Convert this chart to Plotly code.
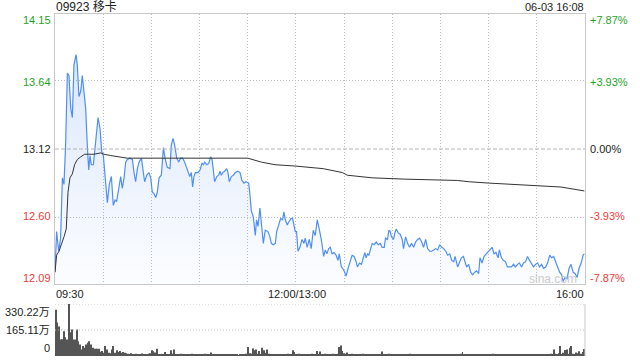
import plotly.graph_objects as go

# ---------------- data ----------------
TITLE = "09923 移卡"
STAMP = "06-03 16:08"
PREV_CLOSE = 13.12
Y_MIN, Y_MAX = 12.09, 14.15
PRICE_TICKS = [14.15, 13.64, 13.12, 12.60, 12.09]
PCT_TICKS = ["+7.87%", "+3.93%", "0.00%", "-3.93%", "-7.87%"]
TIME_LABELS = ["09:30", "12:00/13:00", "16:00"]
VOL_TICKS = ["330.22万", "165.11万", "0"]
VOL_MAX = 330.22

# minutes since 09:30 (lunch break removed) and price
price_t = [0, 1.0, 2.3, 3.5, 4.6, 5.6, 6.6, 7.7, 8.7, 9.8, 10.8, 11.8, 13.1, 13.9, 14.9, 16.0, 17.0, 18.1, 19.1, 20.1,
           21.0, 21.8, 22.6, 23.9, 25.1, 26.8, 28.0, 29.1, 30.1, 31.5, 32.6, 33.8, 35.1, 36.3, 37.4, 38.4, 39.9, 40.9,
           41.9, 43.0, 44.0, 45.0, 46.7, 48.2, 49.2, 50.2, 51.3, 52.3, 53.8, 55.0, 55.8, 57.1, 58.5, 59.6, 60.6, 61.6,
           62.7, 63.7, 64.8, 66.2, 67.5, 68.5, 69.9, 71.6, 72.4, 73.5, 74.5, 75.8, 77.0, 78.2, 79.5, 80.7, 82.0,
           83.9, 84.9, 85.7, 86.5, 87.4, 89.0, 90.3, 91.5, 92.4, 93.2, 94.5, 95.7, 96.9, 97.8, 98.6, 99.4, 100.7, 101.9,
           102.7, 103.6, 104.4, 105.6, 106.9, 107.7, 108.5, 109.8, 111.0, 112.3, 113.9, 115.2, 116.4, 117.7, 118.9,
           120.6, 121.4, 122.2, 123.5, 124.7, 125.5, 126.4, 127.6, 128.5, 129.7, 130.9, 132.6, 133.8, 134.7, 135.9,
           137.2, 138.0, 139.3, 140.5, 141.7, 142.5, 143.4, 144.6, 145.9, 147.1, 147.9, 148.7, 149.6, 150.4, 151.3,
           152.5, 153.8, 155.0, 155.8, 157.0, 158.3, 159.5, 160.8, 162.0, 163.3, 164.5, 165.8,
           167.3, 168.3, 169.3, 170.4, 171.4, 172.5, 173.7, 175.0, 176.2, 177.0, 178.3, 179.1, 180.4, 181.2, 182.5,
           183.7, 185.0, 186.2, 187.5, 188.3, 189.6, 190.8, 192.1, 192.9, 193.7, 194.6, 195.4, 196.7, 197.5, 198.7,
           200.0, 201.2, 202.5, 203.7, 205.0, 205.8, 207.0, 207.9, 208.7, 209.5, 210.8, 211.6, 212.5, 213.7, 214.9,
           216.2, 217.0, 218.3, 219.5, 220.8, 222.0, 223.3, 224.5, 225.8, 227.0, 228.3, 229.5, 230.8, 232.0, 233.3,
           234.5, 235.8, 237.0, 238.3, 239.5, 240.8, 242.0, 243.3, 244.5, 245.8, 247.0, 248.3, 249.1,
           250.7, 251.8, 253.0, 254.3, 255.5, 256.3, 257.6, 258.8, 260.1, 261.3, 262.5, 263.8, 264.6, 265.9, 267.1,
           268.4, 269.6, 270.9, 272.1, 273.4, 274.6, 275.9, 276.7, 278.0, 279.2, 280.5, 281.7, 283.0, 284.2, 285.5,
           286.7, 288.0, 289.2, 290.5, 291.7, 293.0, 294.2, 295.5, 296.7, 298.0, 299.2, 300.5, 301.7, 303.0, 304.2,
           305.5, 306.7, 308.0, 309.2, 310.5, 311.7, 313.0, 314.2, 315.5, 316.3, 317.6, 318.8, 320.1, 321.3, 322.6,
           323.8, 325.1, 326.3, 327.6, 328.8, 329.6]
price_v = [12.18, 12.49, 12.34, 12.44, 12.90, 12.85, 13.15, 13.70, 13.68, 13.43, 13.36, 13.76, 13.84, 13.76, 13.52,
           13.56, 13.68, 13.53, 13.43, 13.15, 12.96, 13.07, 13.00, 13.00, 13.13, 13.36, 13.28, 13.10, 13.07, 12.90,
           12.71, 12.85, 12.91, 12.69, 12.73, 12.72, 12.85, 12.91, 12.82, 12.90, 13.02, 13.04, 13.05, 13.04, 12.94,
           12.87, 12.97, 13.02, 13.05, 12.96, 12.87, 12.92, 12.94, 12.90, 12.79, 12.78, 12.75, 12.79, 12.90, 12.92,
           13.13, 13.05, 12.98, 12.97, 13.15, 13.20, 13.15, 13.05, 13.02, 13.05, 13.05, 13.02, 12.98,
           12.91, 12.94, 12.83, 12.91, 12.94, 12.94, 12.96, 13.01, 13.00, 13.02, 13.00, 13.01, 13.06, 13.04, 12.94,
           12.87, 12.91, 12.92, 12.95, 12.92, 12.94, 12.95, 12.97, 12.94, 12.87, 12.91, 12.92, 12.94, 12.95, 12.94,
           12.88, 12.86, 12.87, 12.86, 12.77, 12.65, 12.60, 12.46, 12.58, 12.53, 12.67, 12.55, 12.40, 12.50, 12.49,
           12.45, 12.40, 12.39, 12.40, 12.49, 12.55, 12.59, 12.58, 12.64, 12.58, 12.54, 12.57, 12.59, 12.59, 12.55,
           12.49, 12.49, 12.34, 12.37, 12.43, 12.40, 12.44, 12.37, 12.43, 12.36, 12.50, 12.46, 12.58, 12.51, 12.43,
           12.30, 12.35, 12.32, 12.36, 12.37, 12.32, 12.33, 12.31, 12.27, 12.32, 12.22, 12.21, 12.18, 12.15, 12.21,
           12.26, 12.31, 12.30, 12.26, 12.22, 12.25, 12.24, 12.29, 12.33, 12.29, 12.32, 12.31, 12.37, 12.40, 12.39,
           12.41, 12.39, 12.40, 12.37, 12.37, 12.44, 12.43, 12.50, 12.49, 12.45, 12.43, 12.48, 12.51, 12.48, 12.47,
           12.43, 12.36, 12.45, 12.40, 12.37, 12.40, 12.37, 12.41, 12.43, 12.44, 12.41, 12.37, 12.43, 12.36, 12.34,
           12.34, 12.35, 12.36, 12.35, 12.39, 12.37, 12.36, 12.34, 12.31, 12.32, 12.27, 12.26, 12.30,
           12.22, 12.25, 12.29, 12.30, 12.25, 12.22, 12.24, 12.18, 12.16, 12.18, 12.19, 12.17, 12.29, 12.25, 12.30,
           12.32, 12.33, 12.35, 12.37, 12.32, 12.33, 12.29, 12.35, 12.29, 12.27, 12.26, 12.22, 12.22, 12.22, 12.24,
           12.22, 12.24, 12.25, 12.22, 12.25, 12.26, 12.30, 12.27, 12.25, 12.22, 12.24, 12.25, 12.22, 12.24, 12.21,
           12.22, 12.25, 12.31, 12.29, 12.30, 12.26, 12.22, 12.18, 12.16, 12.11, 12.14, 12.13, 12.21, 12.24, 12.18,
           12.17, 12.14, 12.21, 12.25, 12.31, 12.32]

avg_t = [0, 1, 2.5, 4, 5.6, 7, 8.1, 9.3, 10.8, 12.2, 13.9, 16, 18.5, 21, 24.3, 28.4, 30.5, 34.7, 38.8, 45, 53,
         61.6, 68, 76, 84, 120, 128.5, 137, 149.6, 158, 167, 179, 182, 197.5, 218, 250.5, 258, 270, 299, 315, 329.6]
avg_v = [12.18, 12.31, 12.34, 12.39, 12.45, 12.51, 12.79, 12.90, 12.93, 13.00, 13.04, 13.06, 13.08, 13.08, 13.08,
         13.09, 13.08, 13.07, 13.06, 13.05, 13.05, 13.05, 13.05, 13.05, 13.05, 13.05, 13.02, 13.00, 12.99, 12.98,
         12.97, 12.94, 12.92, 12.90, 12.89, 12.88, 12.87, 12.86, 12.84, 12.83, 12.80]

# volume per minute (万), minutes 0..330
volume = [293, 213, 188, 105, 107, 157, 119, 105, 330, 151, 168, 105, 105, 168, 94,
          73, 42, 63, 52, 73, 84, 94, 73, 52, 46, 46, 46, 46, 27, 31,
          21, 63, 42, 21, 17, 42, 63, 21, 36, 25, 31, 21, 25, 21, 18,
          14, 10, 18, 12, 8, 15, 11, 9, 13, 16, 10, 12, 8, 14, 17,
          36, 30, 22, 46, 12, 9, 14, 11, 25, 10, 13, 8, 36, 15, 42,
          12, 9, 11, 14, 8, 10, 13, 7, 12, 9, 15, 10, 8, 11, 13,
          9, 12, 8, 14, 10, 7, 11, 22, 9, 13, 8, 10, 12, 7, 9,
          11, 8, 13, 10, 7, 9, 12, 8, 10, 6, 11, 9, 8, 12, 14,
          57, 18, 14, 48, 36, 42, 15, 31, 12, 52, 36, 20, 42, 14, 10,
          12, 9, 11, 8, 13, 10, 9, 12, 8, 11, 15, 10, 13, 36, 25,
          12, 10, 14, 9, 11, 8, 13, 10, 9, 12, 15, 11, 10, 31, 13,
          29, 12, 10, 14, 9, 11, 13, 10, 15, 12, 9, 14, 57, 67, 31,
          18, 14, 22, 12, 10, 15, 9, 13, 11, 8, 12, 10, 14, 9, 11,
          8, 12, 10, 7, 11, 9, 13, 10, 8, 29, 12, 9, 11, 14, 10,
          8, 12, 9, 11, 7, 10, 13, 9, 8, 12, 10, 14, 9, 11, 8,
          10, 12, 9, 7, 11, 13, 8, 10, 9, 12, 8, 11, 10, 7, 9,
          12, 10, 8, 11, 9, 13, 10, 8, 12, 9, 11, 7, 10, 14, 25,
          11, 9, 12, 8, 10, 13, 9, 11, 8, 12, 10, 9, 13, 8, 11,
          10, 12, 9, 14, 8, 11, 10, 13, 9, 12, 8, 10, 11, 9, 12,
          8, 10, 13, 9, 11, 7, 10, 12, 9, 8, 11, 10, 13, 9, 8,
          12, 10, 9, 11, 8, 13, 10, 9, 12, 15, 11, 42, 14, 10, 18,
          63, 12, 20, 38, 42, 15, 52, 63, 14, 12, 22, 18, 30, 15, 25,
          45]
vol_t = list(range(len(volume)))

# ---------------- styling ----------------
W, H = 640, 360
ML, MR, MT, MB = 55, 55, 14, 4
PW, PH = W - ML - MR, H - MT - MB
GREEN, RED, DARK = "#1fa31f", "#f03a3a", "#222222"
FONT = "Liberation Sans, Arial, Noto Sans CJK SC, sans-serif"


def px(x):
    return (x - ML) / PW


def py(y):
    return (H - MB - y) / PH


fig = go.Figure()
fig.add_trace(go.Scatter(
    x=price_t, y=price_v, mode="lines", line=dict(color="#4f8ff3", width=1.2),
    fill="tozeroy",
    fillgradient=dict(type="vertical", start=Y_MIN, stop=13.84,
                      colorscale=[[0, "rgba(80,140,240,0.02)"], [1, "rgba(80,140,240,0.2)"]]),
    xaxis="x", yaxis="y", hoverinfo="skip"))
fig.add_trace(go.Scatter(
    x=avg_t, y=avg_v, mode="lines", line=dict(color="#333333", width=1),
    xaxis="x", yaxis="y", hoverinfo="skip"))
fig.add_trace(go.Bar(
    x=vol_t, y=volume, marker=dict(color="#555555", line=dict(width=0)),
    xaxis="x2", yaxis="y2", hoverinfo="skip"))

grid_dot = "1px,2px"
GRID = "#bdbdbd"
fig.update_layout(
    width=W, height=H, margin=dict(l=ML, r=MR, t=MT, b=MB),
    paper_bgcolor="white", plot_bgcolor="white", showlegend=False, bargap=0.4,
    hovermode=False,
    font=dict(family=FONT, size=11, color=DARK),
    xaxis=dict(domain=[0, 1], range=[0, 330], anchor="y",
               tickvals=[30, 60, 90, 120, 150, 180, 210, 240, 270, 300], showticklabels=False,
               showgrid=True, gridcolor=GRID, griddash=grid_dot, gridwidth=1,
               showline=True, mirror=True, linecolor="#c8c8c8", linewidth=1, zeroline=False, ticks=""),
    yaxis=dict(domain=[py(284), 1], range=[Y_MIN, Y_MAX], anchor="x",
               tickvals=[13.64, 12.60], showticklabels=False,
               showgrid=True, gridcolor=GRID, griddash=grid_dot, gridwidth=1,
               showline=True, mirror=True, linecolor="#c8c8c8", linewidth=1, zeroline=False, ticks=""),
    xaxis2=dict(domain=[0, 1], range=[-0.5, 330.5], anchor="y2", showticklabels=False,
                showgrid=False, showline=False, zeroline=False, ticks=""),
    yaxis2=dict(domain=[0, py(304)], range=[0, VOL_MAX], anchor="x2", showticklabels=False,
                showgrid=False, showline=False, zeroline=False, ticks=""),
)

shapes = [
    dict(type="line", xref="x", yref="y", x0=0, x1=330, y0=PREV_CLOSE, y1=PREV_CLOSE,
         line=dict(color="#b4b4b4", width=1, dash="4px,2px")),
    dict(type="line", xref="paper", yref="y2", x0=0, x1=1, y0=VOL_MAX, y1=VOL_MAX,
         line=dict(color=GRID, width=1, dash=grid_dot)),
    dict(type="line", xref="paper", yref="y2", x0=0, x1=1, y0=VOL_MAX / 2, y1=VOL_MAX / 2,
         line=dict(color=GRID, width=1, dash=grid_dot)),
    dict(type="line", xref="paper", yref="y2", x0=1, x1=1, y0=0, y1=VOL_MAX,
         line=dict(color="#c8c8c8", width=1)),
]
fig.update_layout(shapes=shapes)

ann = []
ann.append(dict(text=TITLE, x=px(54), y=py(7), xanchor="left", yanchor="middle",
                font=dict(size=12, color=DARK)))
ann.append(dict(text=STAMP, x=px(586), y=py(7), xanchor="right", yanchor="middle",
                font=dict(size=11, color=DARK)))
label_y = [20, 82, 149, 216, 278]
label_c = [GREEN, GREEN, DARK, RED, RED]
for txt, pct, yy, cc in zip(PRICE_TICKS, PCT_TICKS, label_y, label_c):
    ann.append(dict(text=f"{txt:.2f}", x=px(53), y=py(yy), xanchor="right", yanchor="middle",
                    font=dict(size=11, color=cc)))
    ann.append(dict(text=pct, x=px(588), y=py(yy), xanchor="left", yanchor="middle",
                    font=dict(size=11, color=cc)))
ann.append(dict(text=TIME_LABELS[0], x=px(54), y=py(294), xanchor="left", yanchor="middle"))
ann.append(dict(text=TIME_LABELS[1], x=px(297), y=py(294), xanchor="center", yanchor="middle"))
ann.append(dict(text=TIME_LABELS[2], x=px(586), y=py(294), xanchor="right", yanchor="middle"))
for txt, yy in zip(VOL_TICKS, [312, 330, 348]):
    ann.append(dict(text=txt, x=px(52), y=py(yy), xanchor="right", yanchor="middle"))
ann.append(dict(text="sina.com", x=px(553), y=py(279), xanchor="center", yanchor="middle",
                font=dict(size=12, color="#cccccc")))
for a in ann:
    a.update(xref="paper", yref="paper", showarrow=False)
fig.update_layout(annotations=ann)

fig.write_html("out.html", config={"displayModeBar": False})
